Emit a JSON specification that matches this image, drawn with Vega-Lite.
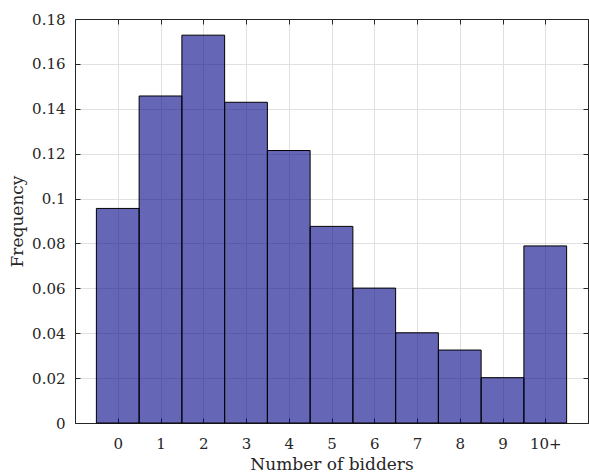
{
  "$schema": "https://vega.github.io/schema/vega-lite/v6.json",
  "width": 513,
  "height": 404,
  "autosize": "none",
  "padding": {"left": 75, "top": 19, "right": 1, "bottom": 53},
  "background": "white",
  "config": {
    "font": "DejaVu Serif",
    "view": {"stroke": "#262626", "strokeWidth": 1},
    "axis": {
      "domainColor": "#262626",
      "domainWidth": 1,
      "tickColor": "#262626",
      "tickWidth": 1,
      "tickSize": -5,
      "labelColor": "#262626",
      "labelFont": "DejaVu Serif",
      "labelFontSize": 15,
      "titleFont": "DejaVu Serif",
      "titleFontSize": 17,
      "titleFontWeight": "normal",
      "titleColor": "#262626",
      "gridColor": "#e0e0e0",
      "gridWidth": 1
    }
  },
  "data": {
    "values": [
      {"bidders": "0", "start": -0.5, "end": 0.5, "freq": 0.0956},
      {"bidders": "1", "start": 0.5, "end": 1.5, "freq": 0.1457},
      {"bidders": "2", "start": 1.5, "end": 2.5, "freq": 0.1728},
      {"bidders": "3", "start": 2.5, "end": 3.5, "freq": 0.1429},
      {"bidders": "4", "start": 3.5, "end": 4.5, "freq": 0.1214},
      {"bidders": "5", "start": 4.5, "end": 5.5, "freq": 0.0876},
      {"bidders": "6", "start": 5.5, "end": 6.5, "freq": 0.0601},
      {"bidders": "7", "start": 6.5, "end": 7.5, "freq": 0.0402},
      {"bidders": "8", "start": 7.5, "end": 8.5, "freq": 0.0325},
      {"bidders": "9", "start": 8.5, "end": 9.5, "freq": 0.0202},
      {"bidders": "10+", "start": 9.5, "end": 10.5, "freq": 0.0789}
    ]
  },
  "layer": [
    {
      "mark": {"type": "bar", "fill": "#000087", "fillOpacity": 0.6, "stroke": "#000000", "strokeWidth": 1},
      "encoding": {
        "x": {
          "field": "start", "type": "quantitative",
          "scale": {"domain": [-1, 11], "nice": false, "zero": false},
          "axis": {
            "orient": "bottom",
            "values": [0, 1, 2, 3, 4, 5, 6, 7, 8, 9, 10],
            "labelExpr": "datum.value == 10 ? '10+' : datum.label",
            "labelPadding": 18,
            "title": "Number of bidders",
            "titlePadding": 5
          }
        },
        "x2": {"field": "end"},
        "y": {
          "field": "freq", "type": "quantitative",
          "scale": {"domain": [0, 0.18], "nice": false},
          "axis": {
            "orient": "left",
            "values": [0, 0.02, 0.04, 0.06, 0.08, 0.1, 0.12, 0.14, 0.16, 0.18],
            "labelExpr": "datum.value == 0 ? '0' : format(datum.value, '.2~f')",
            "labelPadding": 15,
            "title": "Frequency",
            "titlePadding": 5
          }
        },
        "y2": {"datum": 0}
      }
    },
    {
      "mark": {"type": "bar", "opacity": 0},
      "encoding": {
        "x": {
          "field": "start", "type": "quantitative",
          "axis": {"orient": "top", "values": [0, 1, 2, 3, 4, 5, 6, 7, 8, 9, 10], "labels": false, "grid": false, "title": null}
        },
        "x2": {"field": "end"},
        "y": {
          "field": "freq", "type": "quantitative",
          "axis": {"orient": "right", "values": [0, 0.02, 0.04, 0.06, 0.08, 0.1, 0.12, 0.14, 0.16, 0.18], "labels": false, "grid": false, "title": null}
        },
        "y2": {"datum": 0}
      }
    }
  ],
  "resolve": {"axis": {"x": "independent", "y": "independent"}}
}
